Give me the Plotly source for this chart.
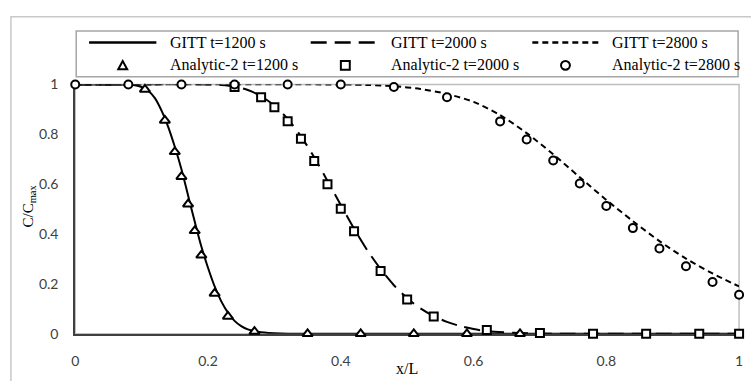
import plotly.graph_objects as go

W, H = 751, 381

# ---- GITT concentration profiles (solid / dashed curves) ----
gitt_1200_x = [0, 0.06, 0.09, 0.10, 0.11, 0.12, 0.13, 0.14, 0.15, 0.16, 0.17, 0.18, 0.19,
               0.20, 0.21, 0.22, 0.23, 0.24, 0.25, 0.26, 0.28, 0.31, 0.35, 1.0]
gitt_1200_y = [1, 1, 0.997, 0.99, 0.975, 0.945, 0.895, 0.83, 0.75, 0.66, 0.555, 0.45, 0.35,
               0.265, 0.19, 0.13, 0.085, 0.052, 0.031, 0.018, 0.006, 0.001, 0, 0]

gitt_2000_x = [0, 0.20, 0.22, 0.24, 0.26, 0.28, 0.30, 0.32, 0.34, 0.36, 0.38, 0.40, 0.42,
               0.44, 0.46, 0.48, 0.50, 0.52, 0.54, 0.56, 0.58, 0.60, 0.62, 0.66, 0.70, 0.75, 1.0]
gitt_2000_y = [1, 1, 0.998, 0.992, 0.978, 0.953, 0.915, 0.862, 0.792, 0.708, 0.613, 0.517, 0.422,
               0.335, 0.26, 0.195, 0.143, 0.102, 0.071, 0.048, 0.031, 0.019, 0.011, 0.004, 0.001, 0, 0]

gitt_2800_x = [0, 0.40, 0.44, 0.48, 0.52, 0.56, 0.60, 0.64, 0.68, 0.72, 0.76, 0.80, 0.84,
               0.88, 0.92, 0.96, 1.0]
gitt_2800_y = [1, 1, 0.998, 0.993, 0.982, 0.962, 0.93, 0.877, 0.805, 0.72, 0.628, 0.537, 0.452,
               0.372, 0.302, 0.242, 0.19]

# ---- Analytic-2 solution (open markers) ----
ana_1200_x = [0.105, 0.135, 0.15, 0.16, 0.17, 0.18, 0.19, 0.21, 0.23, 0.27,
              0.35, 0.43, 0.51, 0.59, 0.67]
ana_1200_y = [0.98, 0.856, 0.73, 0.63, 0.52, 0.413, 0.315, 0.162, 0.07, 0.009,
              0, 0, 0, 0, 0]

ana_2000_x = [0.24, 0.28, 0.30, 0.32, 0.34, 0.36, 0.38, 0.40, 0.42, 0.46, 0.50, 0.54,
              0.62, 0.70, 0.78, 0.86, 0.94, 1.0]
ana_2000_y = [0.99, 0.949, 0.909, 0.853, 0.782, 0.693, 0.60, 0.502, 0.411, 0.252, 0.138, 0.07,
              0.015, 0.003, 0, 0, 0, 0]

ana_2800_x = [0, 0.08, 0.16, 0.24, 0.32, 0.40, 0.48, 0.56, 0.64, 0.68, 0.72, 0.76, 0.80,
              0.84, 0.88, 0.92, 0.96, 1.0]
ana_2800_y = [1, 1, 1, 1, 1, 1, 0.99, 0.949, 0.852, 0.779, 0.695, 0.603, 0.513,
              0.424, 0.342, 0.271, 0.208, 0.157]

tick_vals = [0, 0.2, 0.4, 0.6, 0.8, 1]
tick_text = ["0", "0.2", "0.4", "0.6", "0.8", "1"]

legend_labels = ["GITT t=1200 s", "GITT t=2000 s", "GITT t=2800 s",
                 "Analytic-2 t=1200 s", "Analytic-2 t=2000 s", "Analytic-2 t=2800 s"]

SERIF = "Liberation Serif, Times New Roman, serif"
SANS = "Lato, Open Sans, sans-serif"
DASHES = ["solid", "16px,8px", "6px,4px"]


def fx(p):
    return p / W


def fy(p):
    return 1 - p / H


fig = go.Figure()

for xs, ys, dash in [(gitt_1200_x, gitt_1200_y, DASHES[0]),
                     (gitt_2000_x, gitt_2000_y, DASHES[1]),
                     (gitt_2800_x, gitt_2800_y, DASHES[2])]:
    fig.add_trace(go.Scatter(x=xs, y=ys, mode="lines", line_shape="spline",
                             line=dict(color="black", width=2, dash=dash, smoothing=0.8),
                             cliponaxis=False, showlegend=False, hoverinfo="skip"))

for xs, ys, sym, size in [(ana_1200_x, ana_1200_y, "triangle-up", 9),
                          (ana_2000_x, ana_2000_y, "square", 8),
                          (ana_2800_x, ana_2800_y, "circle", 8)]:
    fig.add_trace(go.Scatter(x=xs, y=ys, mode="markers",
                             marker=dict(symbol=sym, size=size, color="white",
                                         line=dict(color="black", width=2)),
                             cliponaxis=False, showlegend=False))

shapes = []
annotations = []

# outer chart border
shapes.append(dict(type="rect", xref="paper", yref="paper",
                   x0=fx(7), x1=fx(770), y0=fy(400), y1=fy(8),
                   line=dict(color="#c8c8c8", width=1.5), layer="below"))
# plot-area frame (top and right visible, left/bottom are the axis lines)
shapes.append(dict(type="rect", xref="paper", yref="paper",
                   x0=fx(72), x1=fx(743), y0=fy(340), y1=fy(79),
                   line=dict(color="#bfbfbf", width=1.5), layer="below"))

# legend box
shapes.append(dict(type="rect", xref="paper", yref="paper",
                   x0=fx(73), x1=fx(742), y0=fy(71), y1=fy(23),
                   line=dict(color="#a6a6a6", width=1.5), fillcolor="white", layer="below"))

col_line = [(86, 154), (310, 380), (534, 601)]
col_text = [166, 389, 613]
row_y = [35, 59]

for (a, b), dash in zip(col_line, DASHES):
    shapes.append(dict(type="line", xref="paper", yref="paper",
                       x0=fx(a), x1=fx(b), y0=fy(row_y[0]), y1=fy(row_y[0]),
                       line=dict(color="black", width=2.5, dash=dash)))

# legend marker samples
cx = [(a + b) / 2 for a, b in col_line]
ym = row_y[1]
shapes.append(dict(type="path", xref="paper", yref="paper",
                   path=(f"M {fx(cx[0])},{fy(ym - 4.5)} L {fx(cx[0] - 4.5)},{fy(ym + 4)} "
                         f"L {fx(cx[0] + 4.5)},{fy(ym + 4)} Z"),
                   line=dict(color="black", width=2), fillcolor="white"))
shapes.append(dict(type="rect", xref="paper", yref="paper",
                   x0=fx(cx[1] - 4.5), x1=fx(cx[1] + 4.5), y0=fy(ym + 4.5), y1=fy(ym - 4.5),
                   line=dict(color="black", width=2), fillcolor="white"))
shapes.append(dict(type="circle", xref="paper", yref="paper",
                   x0=fx(cx[2] - 4.5), x1=fx(cx[2] + 4.5), y0=fy(ym + 4.5), y1=fy(ym - 4.5),
                   line=dict(color="black", width=2), fillcolor="white"))

for i, label in enumerate(legend_labels):
    annotations.append(dict(xref="paper", yref="paper", x=fx(col_text[i % 3]), y=fy(row_y[i // 3]),
                            text=label, showarrow=False, xanchor="left", yanchor="middle",
                            font=dict(family=SERIF, size=16, color="black")))

# axis titles
annotations.append(dict(xref="paper", yref="paper", x=fx(407.5), y=fy(376),
                        text="x/L", showarrow=False, xanchor="center", yanchor="middle",
                        font=dict(family=SERIF, size=16, color="black")))
annotations.append(dict(xref="paper", yref="paper", x=fx(25), y=fy(206),
                        text="C/C<sub>max</sub>", showarrow=False, textangle=-90,
                        xanchor="center", yanchor="middle",
                        font=dict(family=SERIF, size=15, color="black")))

fig.update_layout(
    width=W, height=H,
    margin=dict(l=0, r=0, t=0, b=0),
    paper_bgcolor="white", plot_bgcolor="white",
    showlegend=False,
    shapes=shapes, annotations=annotations,
    xaxis=dict(domain=[fx(72), fx(743)], range=[0, 1], tickvals=tick_vals, ticktext=tick_text,
               showgrid=False, zeroline=False, showline=True, linecolor="#404040", linewidth=2,
               ticks="outside", ticklen=13, tickcolor="rgba(0,0,0,0)", layer="below traces",
               tickfont=dict(family=SANS, size=14, color="#404040"), fixedrange=True),
    yaxis=dict(domain=[fy(340), fy(79)], range=[0, 1], tickvals=tick_vals, ticktext=tick_text,
               showgrid=False, zeroline=False, showline=True, linecolor="#404040", linewidth=2,
               ticks="outside", ticklen=12, tickcolor="rgba(0,0,0,0)", layer="below traces",
               tickfont=dict(family=SANS, size=14, color="#404040"), fixedrange=True),
)

fig.write_html("out.html")
